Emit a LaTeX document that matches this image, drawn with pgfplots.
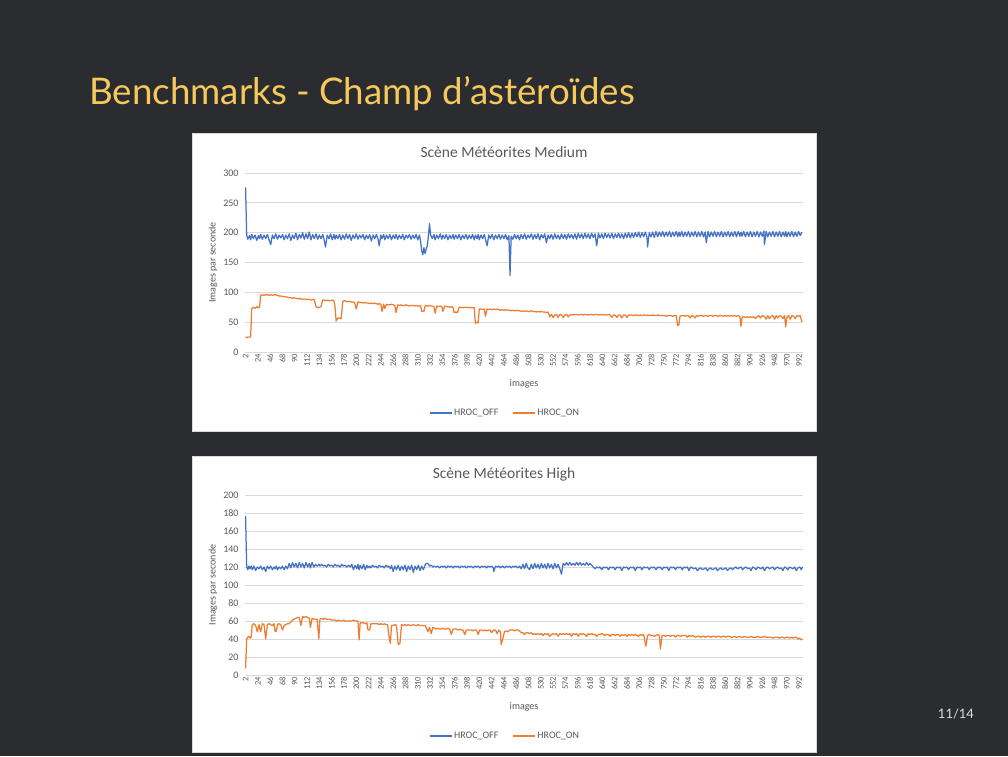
\documentclass[border=0pt]{standalone}
\usepackage{fontspec}
\setmainfont{Carlito}
\newfontfamily\slidefont{Lato}
\usepackage{pgfplots}
\usepackage{pgfplotstable}
\pgfplotsset{compat=1.18}

\definecolor{slidebg}{RGB}{43,44,48}
\definecolor{titleyellow}{RGB}{246,201,92}
\definecolor{xlblue}{RGB}{68,114,196}
\definecolor{xlorange}{RGB}{237,125,49}
\definecolor{xlgray}{RGB}{89,89,89}
\definecolor{xlgrid}{RGB}{217,217,217}

% Scene Meteorites Medium: frame, HROC_OFF, HROC_ON
\pgfplotstableread{
f off on
2 276 25
4 196 24
6 189 25
9 195 25
11 188 25
13 197 73
16 190 75
19 196 73
22 187 76
25 195 74
27 190 75
29 197 95
32 189 96
35 196 95
38 190 96
41 197 96
44 188 95
47 180 96
50 196 95
53 190 96
56 198 96
59 189 95
62 196 94
65 191 94
68 197 93
71 188 93
74 196 92
77 190 92
80 198 91
83 187 91
86 196 90
89 190 91
92 199 90
95 188 89
98 197 90
101 191 89
104 200 88
107 189 89
110 198 88
113 190 88
116 201 88
119 188 87
122 197 88
125 190 87
128 198 76
131 189 74
134 196 75
137 190 76
140 197 87
143 186 87
145 176 86
148 196 87
151 190 86
154 198 86
157 188 87
160 197 86
162 189 76
164 196 52
167 190 57
170 197 57
173 188 56
176 196 85
179 189 86
182 198 85
185 190 84
188 197 85
191 187 84
194 196 84
197 190 83
200 198 72
203 189 84
206 196 83
209 191 83
212 197 82
215 188 83
218 196 82
221 190 82
224 197 81
227 186 82
230 196 81
233 190 82
236 197 81
239 189 80
241 178 81
244 196 80
246 190 68
249 197 80
251 188 73
254 196 80
257 190 79
260 197 79
263 188 80
266 196 79
269 190 78
271 197 66
274 189 79
277 196 78
280 190 79
283 197 78
286 188 78
289 196 79
292 191 78
295 197 77
298 189 78
301 196 78
304 190 77
307 197 78
310 188 77
313 196 77
315 186 78
317 170 68
319 163 69
321 175 68
323 165 77
325 172 78
327 178 77
329 194 77
331 215 78
333 196 77
336 190 77
339 197 76
341 188 65
344 196 77
347 190 76
350 198 77
353 189 76
355 196 68
358 190 77
361 197 76
364 188 76
367 196 75
370 190 76
373 197 75
375 189 66
378 196 67
381 190 66
384 197 75
387 188 75
390 196 74
393 190 75
396 197 75
399 189 74
402 196 75
405 190 74
408 197 74
411 188 74
413 196 48
416 190 50
418 197 49
420 188 72
423 196 72
426 190 71
429 197 72
431 189 60
434 178 72
437 196 71
440 190 72
443 197 71
446 188 72
449 196 71
452 190 72
455 197 71
458 189 70
461 196 71
464 190 70
467 197 71
470 188 70
473 195 70
475 128 70
477 194 69
480 189 70
483 197 69
486 190 69
489 196 70
492 188 69
495 197 68
498 190 69
501 198 68
504 189 69
507 196 68
510 191 68
513 198 69
516 189 68
519 197 68
522 190 67
525 198 68
528 188 67
531 197 68
534 191 67
537 198 67
540 183 66
543 196 67
546 190 59
549 197 63
552 189 58
555 198 62
558 190 63
561 196 58
564 189 63
567 198 62
570 190 58
573 197 62
576 189 63
579 198 59
582 191 62
585 197 63
588 190 62
591 198 63
594 189 63
597 199 62
600 191 63
603 198 63
606 190 62
609 199 63
612 191 63
615 198 62
618 190 63
621 199 63
624 192 62
627 198 63
630 178 63
633 199 62
636 191 63
639 198 62
642 190 63
645 199 62
648 192 62
651 198 63
654 191 62
657 199 58
660 190 62
663 198 62
666 192 58
669 199 62
672 191 62
675 198 57
678 190 62
681 199 62
684 192 58
687 200 62
690 191 62
693 199 62
696 192 61
699 200 62
702 193 62
705 201 61
708 192 62
711 200 61
714 193 62
717 201 62
720 192 61
721 176 62
724 200 61
727 193 61
730 201 62
733 192 61
736 202 61
739 193 62
742 201 61
745 194 61
748 202 61
751 193 61
754 201 60
757 194 61
760 202 61
763 193 61
766 201 60
769 194 61
772 202 61
775 193 44
777 201 46
779 194 60
782 202 61
785 193 61
788 201 60
791 194 61
794 202 61
797 193 57
800 201 61
803 194 60
806 202 57
809 193 61
812 201 60
815 194 61
818 202 61
821 193 60
824 201 61
826 183 61
829 202 60
832 193 61
835 201 61
838 194 60
841 202 61
844 193 61
847 201 60
850 194 61
853 202 61
856 193 60
859 201 61
862 194 60
865 202 61
868 193 60
871 201 61
874 194 60
877 202 61
880 193 60
883 202 61
886 194 60
888 201 43
890 194 58
893 202 59
896 193 58
899 201 59
902 194 58
905 202 59
908 193 58
911 201 59
914 194 56
917 202 59
920 193 61
923 201 57
926 194 61
929 203 60
930 180 60
933 202 55
936 193 61
939 201 56
942 194 60
945 202 61
948 193 55
951 201 61
954 194 57
957 202 61
960 193 60
963 201 56
966 194 61
968 202 42
970 193 58
973 201 61
976 194 55
979 202 61
982 193 60
985 201 56
988 194 61
991 202 60
994 195 61
997 201 50
}\medium

% Scene Meteorites High: frame, HROC_OFF, HROC_ON
\pgfplotstableread{
f off on
2 177 7
4 120 40
6 117 42
8 121 43
10 118 41
12 121 42
14 117 56
17 121 57
20 116 55
23 120 48
26 118 56
29 121 48
32 117 57
35 120 56
38 115 40
41 121 56
44 118 57
47 121 56
50 117 55
53 120 57
55 118 48
57 121 49
59 117 56
62 120 57
65 118 56
68 121 50
71 117 55
74 121 56
77 118 57
80 124 57
83 119 59
86 125 61
89 120 62
92 124 63
95 119 64
98 125 64
101 120 55
104 124 65
107 119 64
110 125 65
113 120 64
116 124 63
118 119 53
121 125 63
124 120 62
127 123 62
130 121 62
133 123 40
135 121 62
138 123 63
141 121 62
144 122 63
147 120 62
150 123 62
153 121 62
156 122 61
159 120 61
162 123 61
165 121 60
168 122 61
171 120 60
174 123 60
177 121 61
180 122 60
183 120 60
186 122 60
189 120 60
192 123 60
195 117 61
198 122 60
201 118 60
203 123 60
205 117 39
207 122 58
210 118 58
213 123 58
216 117 57
219 122 58
221 119 50
224 121 50
226 119 57
229 122 57
232 120 57
235 121 57
238 119 57
241 122 56
244 120 57
247 121 56
250 119 57
253 122 56
256 120 56
258 121 45
261 118 35
263 122 55
266 115 55
269 121 56
272 117 55
275 122 34
278 116 35
281 121 56
284 117 55
287 122 56
290 115 55
293 121 56
296 117 55
299 122 55
302 114 56
305 121 55
308 117 55
311 122 56
314 116 55
317 121 55
320 117 55
323 122 55
325 124 53
328 124 48
331 121 53
334 122 46
337 120 53
340 121 52
343 120 51
346 121 52
349 119 51
352 121 51
355 120 52
358 121 51
361 119 51
364 121 52
367 120 51
370 121 45
373 119 51
376 121 51
379 120 51
382 121 50
385 119 51
388 121 50
391 120 50
394 121 45
397 119 50
400 121 50
403 120 50
406 121 50
409 119 49
412 121 50
415 120 50
418 121 45
421 119 50
424 121 50
427 120 49
430 121 50
433 119 49
436 121 50
439 120 50
442 121 47
445 119 50
446 115 49
449 121 50
452 120 46
455 121 50
458 119 48
459 120 34
462 121 40
465 119 48
468 121 49
471 120 48
474 121 50
477 119 50
480 121 50
483 120 49
486 121 50
489 119 50
492 121 49
495 118 47
498 123 47
501 118 45
504 124 47
507 119 47
510 117 46
513 123 47
516 118 45
519 124 46
522 119 45
525 123 46
528 118 45
531 124 46
534 119 44
537 123 46
540 118 45
543 124 46
546 119 43
549 123 45
552 118 46
555 124 45
558 119 46
561 123 43
564 118 46
567 112 45
570 124 46
573 122 45
576 125 46
579 122 45
582 125 46
585 122 43
588 124 46
591 122 45
594 125 46
597 122 43
600 125 46
603 122 45
606 124 46
609 122 45
612 125 43
615 122 46
618 124 45
621 122 46
624 120 45
627 118 45
630 120 43
633 119 45
636 120 45
639 117 46
642 120 45
645 119 44
648 120 45
651 117 45
654 120 43
657 119 45
660 120 45
663 117 44
666 120 45
669 119 45
672 120 43
675 116 45
678 120 44
681 119 45
684 120 43
687 117 45
690 120 44
693 119 45
696 120 44
699 116 45
702 120 44
705 119 43
708 120 45
711 117 44
714 120 45
718 119 32
721 120 44
724 117 45
727 120 44
730 119 44
733 120 43
736 117 44
739 120 45
742 119 44
744 120 29
747 117 44
750 120 44
753 119 43
756 120 44
759 116 44
762 120 43
765 119 44
768 120 44
771 117 42
774 120 44
777 119 44
780 120 43
783 117 44
786 120 44
789 119 44
792 120 42
795 116 44
798 120 43
801 119 44
804 118 43
807 119 42
810 116 43
813 118 43
816 119 42
819 117 43
822 118 43
825 119 42
828 116 43
831 118 43
834 119 42
837 117 43
840 118 43
843 119 42
846 116 43
849 118 43
852 119 42
855 117 43
858 118 43
861 119 42
864 116 43
867 118 43
870 119 42
873 117 42
876 119 43
879 120 42
882 118 42
885 119 43
888 120 42
891 117 42
894 119 43
897 120 42
900 118 42
903 119 42
906 116 43
909 120 42
912 119 42
915 117 42
918 120 43
921 119 42
924 118 42
927 120 42
930 116 43
933 119 42
936 120 42
939 118 42
942 119 42
945 120 41
948 117 42
951 119 42
954 120 42
957 118 41
960 119 42
963 116 42
966 120 41
969 119 42
972 117 42
975 120 41
978 119 42
981 118 41
984 120 42
987 116 42
990 119 40
993 120 41
996 117 39
998 120 40
}\high

\pgfplotsset{
  excel/.style={
    scale only axis, width=558pt,
    xmin=1, xmax=999, ymin=0,
    xtick={2,24,...,992},
    axis line style={draw=none},
    major tick length=0pt,
    ymajorgrids, grid style={xlgrid, line width=0.8pt},
    tick label style={text=xlgray},
    /pgf/number format/assume math mode=true,
    /pgf/number format/1000 sep={},
    x tick label style={rotate=90, anchor=east, font=\fontsize{8.5}{9}\selectfont, inner sep=1.5pt},
    y tick label style={font=\fontsize{10}{10}\selectfont, xshift=-3pt},
    xlabel={images}, ylabel={Images par seconde},
    every axis x label/.style={at={(axis description cs:0.5,0)}, anchor=center, yshift=-32pt, font=\fontsize{10}{10}\selectfont, text=xlgray},
    every axis y label/.style={at={(axis description cs:0,0.5)}, xshift=-32pt, rotate=90, anchor=center, font=\fontsize{10}{10}\selectfont, text=xlgray},
    every axis title/.style={at={(axis description cs:0.5,1)}, anchor=center, xshift=-20pt, yshift=21pt, font=\fontsize{15.5}{16}\selectfont, text=xlgray},
    legend columns=2,
    legend style={at={(axis description cs:0.5,0)}, anchor=center, xshift=-19pt, yshift=-61pt, draw=none, fill=none,
      font=\fontsize{10}{10}\selectfont, text=xlgray,
      /tikz/every even column/.append style={column sep=12pt}},
    legend image code/.code={\draw[#1, line width=1.1pt] (0pt,0pt) -- (22pt,0pt);},
    every axis plot/.append style={line width=1.25pt, line join=round},
  }
}

\begin{document}
\begin{tikzpicture}
\fill[slidebg] (0pt,0pt) rectangle (1008pt,756pt);
\node[anchor=base west, inner sep=0, text=titleyellow, font=\slidefont\fontsize{36.7}{40}\selectfont] at (89pt,651pt) {Benchmarks - Champ d’astéroïdes};
\node[text=white!88!black, font=\slidefont\fontsize{13}{13}\selectfont] at (956pt,42pt) {11/14};

\filldraw[fill=white, draw=xlgrid] (192pt,325pt) rectangle (816pt,623pt);
\filldraw[fill=white, draw=xlgrid] (192pt,4pt) rectangle (816pt,300pt);

\begin{axis}[excel, at={(245pt,404pt)}, anchor=south west, height=179pt,
  ymax=300, ytick={0,50,...,300}, title={Scène Météorites Medium}]
\addplot[xlblue] table[x=f, y=off] {\medium};
\addplot[xlorange] table[x=f, y=on] {\medium};
\legend{HROC\_OFF, HROC\_ON}
\end{axis}

\begin{axis}[excel, at={(245pt,81pt)}, anchor=south west, height=180pt,
  ymax=200, ytick={0,20,...,200}, title={Scène Météorites High}]
\addplot[xlblue] table[x=f, y=off] {\high};
\addplot[xlorange] table[x=f, y=on] {\high};
\legend{HROC\_OFF, HROC\_ON}
\end{axis}
\end{tikzpicture}
\end{document}
